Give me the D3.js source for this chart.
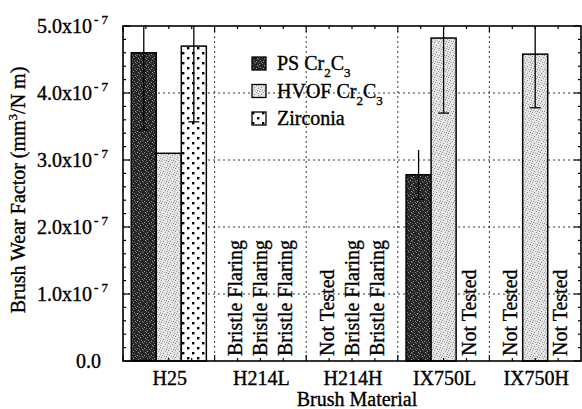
<!DOCTYPE html>
<html><head><meta charset="utf-8">
<script src="https://cdn.jsdelivr.net/npm/d3@7"></script>
<style>
body{margin:0;background:#fff;}
text{font-family:"Liberation Serif","Times New Roman",serif;fill:#000;stroke:#000;stroke-width:0.35px;}
</style></head>
<body><svg id="c" width="582" height="409"></svg>
<script>
const categories = ["H25","H214L","H214H","IX750L","IX750H"];
const seriesNames = ["PS","HVOF","Zirconia"];
const psValues   = [4.6e-7, null, null, 2.78e-7, null];
const hvofValues = [3.1e-7, null, null, 4.82e-7, 4.58e-7];
const zrValues   = [4.7e-7, null, null, null, null];
const psErr   = [1.15e-7, null, null, 0.37e-7, null];
const hvofErr = [null, null, null, 1.12e-7, 0.80e-7];
const zrErr   = [1.13e-7, null, null, null, null];
const notes = [
  [null, null, null],
  ["Bristle Flaring","Bristle Flaring","Bristle Flaring"],
  ["Not Tested","Bristle Flaring","Bristle Flaring"],
  [null, null, "Not Tested"],
  ["Not Tested", null, "Not Tested"]
];
const yTickValues = [0, 1e-7, 2e-7, 3e-7, 4e-7, 5e-7];
const yTickLabels = ["0.0","1.0x10","2.0x10","3.0x10","4.0x10","5.0x10"];

const svg = d3.select("#c");
const L=123, R=581, T=26, B=361;
const x0 = d3.scaleBand().domain(categories).range([L,R]).paddingInner(0).paddingOuter(0);
const x1 = d3.scaleBand().domain(seriesNames).range([0,x0.bandwidth()]).paddingInner(0).paddingOuter(0.33);
const y = d3.scaleLinear().domain([0,5e-7]).range([B,T]);

const defs = svg.append("defs");
function stipple(id, size, bg, dots){
  const p = defs.append("pattern").attr("id",id).attr("width",size).attr("height",size).attr("patternUnits","userSpaceOnUse");
  p.append("rect").attr("width",size).attr("height",size).attr("fill",bg);
  dots.forEach(([a,b,c])=>p.append("rect").attr("x",a).attr("y",b).attr("width",1).attr("height",1).attr("fill",c));
}
stipple("pPS",7,"#262626",[[0,1,"#9a9a9a"],[3,0,"#6a6a6a"],[5,2,"#9a9a9a"],[1,4,"#7a7a7a"],[4,5,"#9a9a9a"],[6,6,"#6a6a6a"],[2,6,"#8a8a8a"],[6,3,"#7a7a7a"]]);
stipple("pHV",7,"#e4e4e4",[[0,0,"#8a8a8a"],[4,1,"#9a9a9a"],[2,3,"#8a8a8a"],[6,4,"#9a9a9a"],[1,5,"#a0a0a0"],[5,6,"#8a8a8a"],[3,6,"#b0b0b0"],[6,2,"#b0b0b0"]]);
// Zirconia dots
const p3 = defs.append("pattern").attr("id","pZR").attr("width",10).attr("height",10).attr("patternUnits","userSpaceOnUse");
p3.append("rect").attr("width",10).attr("height",10).attr("fill","#fff");
[[2,2],[7,7]].forEach(([a,b])=>p3.append("rect").attr("x",a).attr("y",b).attr("width",2.4).attr("height",2.4).attr("fill","#000"));
const fills = {PS:"url(#pPS)",HVOF:"url(#pHV)",Zirconia:"url(#pZR)"};

// gridlines
const g = svg.append("g");
g.selectAll(".hg").data(yTickValues.slice(1,5)).enter().append("line")
  .attr("x1",L).attr("x2",R).attr("y1",d=>y(d)).attr("y2",d=>y(d))
  .attr("stroke","#000").attr("stroke-width",0.8).attr("stroke-dasharray","2,3");
g.selectAll(".vg").data(categories.slice(1)).enter().append("line")
  .attr("x1",d=>x0(d)).attr("x2",d=>x0(d)).attr("y1",T).attr("y2",B)
  .attr("stroke","#000").attr("stroke-width",0.8).attr("stroke-dasharray","2,3");

// bars
const valueSets = {PS:psValues,HVOF:hvofValues,Zirconia:zrValues};
const errSets = {PS:psErr,HVOF:hvofErr,Zirconia:zrErr};
const rows = [];
categories.forEach((c,i)=>seriesNames.forEach((s,j)=>rows.push({c,s,v:valueSets[s][i],e:errSets[s][i],note:notes[i][j]})));
const bars = rows.filter(d=>d.v!=null);
svg.append("g").selectAll("rect").data(bars).enter().append("rect")
  .attr("x",d=>x0(d.c)+x1(d.s)).attr("width",x1.bandwidth())
  .attr("y",d=>y(d.v)).attr("height",d=>B-y(d.v))
  .attr("fill",d=>fills[d.s]).attr("stroke","#000").attr("stroke-width",1.5);

// error bars (clipped at top)
const eb = svg.append("g").attr("stroke","#000").attr("stroke-width",1.3);
bars.filter(d=>d.e!=null).forEach(d=>{
  const cx = x0(d.c)+x1(d.s)+x1.bandwidth()/2;
  const lo = y(d.v-d.e), hi = Math.max(T, y(d.v+d.e));
  eb.append("line").attr("x1",cx).attr("x2",cx).attr("y1",hi).attr("y2",lo);
  eb.append("line").attr("x1",cx-5.5).attr("x2",cx+5.5).attr("y1",lo).attr("y2",lo);
});

// notes
svg.append("g").selectAll("text").data(rows.filter(d=>d.note)).enter().append("text")
  .attr("transform",d=>`translate(${x0(d.c)+x1(d.s)+x1.bandwidth()/2+7},356) rotate(-90)`)
  .attr("font-size",20).text(d=>d.note);

// frame
svg.append("rect").attr("x",L).attr("y",T).attr("width",R-L).attr("height",B-T)
  .attr("fill","none").attr("stroke","#000").attr("stroke-width",1.6);

// y ticks (inward), both sides
const minor = d3.range(0,26).map(i=>i*0.2e-7);
const tk = svg.append("g").attr("stroke","#000").attr("stroke-width",1.2);
minor.forEach((v,i)=>{
  const len = (i%5===0)?7:3;
  tk.append("line").attr("x1",L).attr("x2",L+len).attr("y1",y(v)).attr("y2",y(v));
  tk.append("line").attr("x1",R).attr("x2",R-len).attr("y1",y(v)).attr("y2",y(v));
});
// x ticks top and bottom at quarter-group positions
categories.forEach(c=>{
  [0,0.25,0.5,0.75].forEach(f=>{
    const xx = x0(c)+f*x0.bandwidth();
    const len = f===0?6:3;
    tk.append("line").attr("x1",xx).attr("x2",xx).attr("y1",T).attr("y2",T+len);
    tk.append("line").attr("x1",xx).attr("x2",xx).attr("y1",B).attr("y2",B-len);
  });
});

// y labels
yTickValues.forEach((v,i)=>{
  const t = svg.append("text").attr("font-size",20).attr("y",y(v)+7);
  if(v===0){ t.attr("x",101).attr("text-anchor","end").text(yTickLabels[i]); }
  else {
    t.attr("x",108).attr("text-anchor","end");
    t.append("tspan").text(yTickLabels[i]);
    t.append("tspan").attr("font-size",13).attr("dy",-9).attr("dx",2).text("- 7");
  }
});
// x labels
svg.append("g").selectAll("text").data(categories).enter().append("text")
  .attr("x",d=>x0(d)+x0.bandwidth()/2+1).attr("y",385).attr("text-anchor","middle")
  .attr("font-size",20).text(d=>d);
svg.append("text").attr("x",357).attr("y",406).attr("text-anchor","middle").attr("font-size",20).text("Brush Material");
const yt = svg.append("text").attr("transform","translate(25,190) rotate(-90)").attr("text-anchor","middle").attr("font-size",20);
yt.append("tspan").text("Brush Wear Factor (mm");
yt.append("tspan").attr("font-size",13).attr("dy",-8).text("3");
yt.append("tspan").attr("dy",8).text("/N m)");

// legend
const legendLabels = [["PS Cr","2","C","3"],["HVOF Cr","2","C","3"],["Zirconia"]];
seriesNames.forEach((s,i)=>{
  const by = 70 + i*27.5;
  svg.append("rect").attr("x",252).attr("y",by-13).attr("width",14).attr("height",13)
    .attr("fill",fills[s]).attr("stroke","#000").attr("stroke-width",1.3);
  const t = svg.append("text").attr("x",277).attr("y",by).attr("font-size",20);
  const parts = legendLabels[i];
  t.append("tspan").text(parts[0]);
  if(parts.length>1){
    t.append("tspan").attr("font-size",13).attr("dy",7).text(parts[1]);
    t.append("tspan").attr("dy",-7).text(parts[2]);
    t.append("tspan").attr("font-size",13).attr("dy",7).text(parts[3]);
  }
});
</script></body></html>
